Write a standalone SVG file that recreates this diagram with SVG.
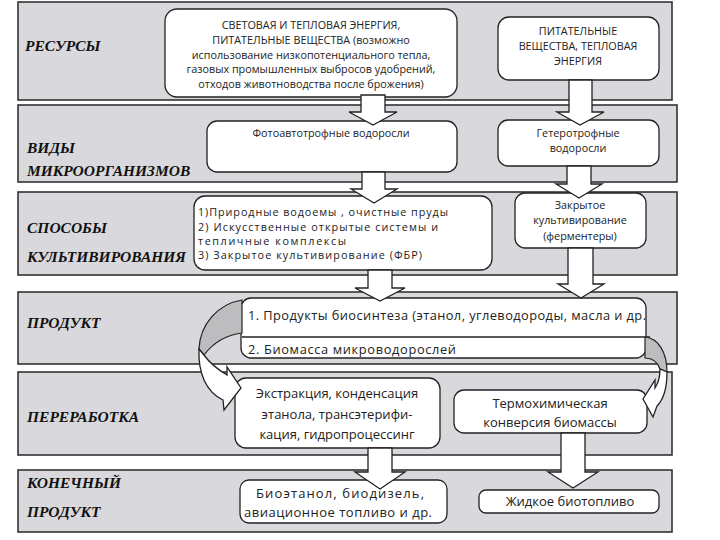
<svg xmlns="http://www.w3.org/2000/svg" width="720" height="540" viewBox="0 0 720 540">
<style>
.band{fill:#d9d9dd;stroke:#333;stroke-width:1.6}
.box{fill:#fff;stroke:#222;stroke-width:1.3}
.lbl{font-family:"Liberation Serif",serif;font-weight:bold;font-style:italic;font-size:15.5px;fill:#111}
.t{font-family:"Open Sans","Noto Sans",sans-serif;font-size:10.8px;fill:#222;text-anchor:middle}
.tl{font-family:"Open Sans","Noto Sans",sans-serif;font-size:10.8px;fill:#222;text-anchor:start}
.tm{font-family:"Open Sans","Noto Sans",sans-serif;font-size:13px;fill:#222;text-anchor:middle}
.tms{font-family:"Open Sans","Noto Sans",sans-serif;font-size:12.8px;fill:#222;text-anchor:start}
.arr{fill:#fff;stroke:#222;stroke-width:1.3;stroke-linejoin:miter}
.back{fill:#bdbdbf;stroke:#222;stroke-width:1.2}
</style>
<rect width="720" height="540" fill="#fff"/>
<g id="bands">
<rect class="band" x="18" y="2" width="654" height="98"/>
<rect class="band" x="18" y="105" width="659" height="77"/>
<rect class="band" x="18" y="192" width="659" height="83"/>
<rect class="band" x="18" y="292" width="659" height="72"/>
<rect class="band" x="18" y="372" width="654" height="83"/>
<rect class="band" x="18" y="470" width="654" height="62"/>
</g>
<g id="labels">
<text class="lbl" x="25" y="51">РЕСУРСЫ</text>
<text class="lbl" x="27" y="153">ВИДЫ</text>
<text class="lbl" x="27" y="176">МИКРООРГАНИЗМОВ</text>
<text class="lbl" x="27" y="233">СПОСОБЫ</text>
<text class="lbl" x="27" y="262">КУЛЬТИВИРОВАНИЯ</text>
<text class="lbl" x="27" y="328">ПРОДУКТ</text>
<text class="lbl" x="27" y="422">ПЕРЕРАБОТКА</text>
<text class="lbl" x="27" y="488">КОНЕЧНЫЙ</text>
<text class="lbl" x="27" y="517">ПРОДУКТ</text>
</g>
<g id="nodeA">
<rect class="box" x="165" y="9" width="292" height="88" rx="12"/>
<text class="t" x="311" y="29">СВЕТОВАЯ И ТЕПЛОВАЯ ЭНЕРГИЯ,</text>
<text class="t" x="311" y="44">ПИТАТЕЛЬНЫЕ ВЕЩЕСТВА (возможно</text>
<text class="t" x="311" y="59" font-size="11.2">использование низкопотенциального тепла,</text>
<text class="t" x="311" y="73" font-size="11.2">газовых промышленных выбросов удобрений,</text>
<text class="t" x="311" y="88" font-size="11.2">отходов животноводства после брожения)</text>
</g>
<g id="nodeB">
<rect class="box" x="498" y="17" width="161" height="63" rx="11"/>
<text class="t" x="578" y="35">ПИТАТЕЛЬНЫЕ</text>
<text class="t" x="578" y="50">ВЕЩЕСТВА,  ТЕПЛОВАЯ</text>
<text class="t" x="578" y="65">ЭНЕРГИЯ</text>
</g>
<g id="nodeC">
<rect class="box" x="207" y="121" width="250" height="51" rx="10"/>
<text class="t" x="331" y="137">Фотоавтотрофные водоросли</text>
</g>
<g id="nodeD">
<rect class="box" x="498" y="120" width="161" height="46" rx="10"/>
<text class="t" x="578" y="137">Гетеротрофные</text>
<text class="t" x="578" y="152">водоросли</text>
</g>
<g id="nodeE">
<rect class="box" x="194" y="196" width="298" height="74" rx="11"/>
<text class="tl" x="198" y="216" textLength="250" lengthAdjust="spacing">1)Природные водоемы , очистные пруды</text>
<text class="tl" x="198" y="231" textLength="240" lengthAdjust="spacing">2) Искусственные открытые  системы и</text>
<text class="tl" x="198" y="245" textLength="148" lengthAdjust="spacing">тепличные  комплексы</text>
<text class="tl" x="198" y="259" textLength="224" lengthAdjust="spacing">3) Закрытое культивирование  (ФБР)</text>
</g>
<g id="nodeF">
<rect class="box" x="515" y="193" width="131" height="55" rx="10"/>
<text class="t" x="580" y="209">Закрытое</text>
<text class="t" x="580" y="224">культивирование</text>
<text class="t" x="580" y="240">(ферментеры)</text>
</g>
<g id="nodeG">
<rect class="box" x="241" y="298" width="405" height="60" rx="10"/>
<line x1="242" y1="337" x2="650" y2="337" stroke="#222" stroke-width="1.3"/>
<text class="tms" x="248" y="320" textLength="398" lengthAdjust="spacing">1.  Продукты биосинтеза (этанол, углеводороды, масла и др.</text>
<text class="tms" x="248" y="354" textLength="208" lengthAdjust="spacing">2.  Биомасса микроводорослей</text>
</g>
<g id="nodeH">
<rect class="box" x="235" y="378" width="205" height="70" rx="11"/>
<text class="tm" x="337" y="398">Экстракция, конденсация</text>
<text class="tm" x="337" y="419">этанола, трансэтерифи-</text>
<text class="tm" x="337" y="439">кация, гидропроцессинг</text>
</g>
<g id="nodeI">
<rect class="box" x="454" y="390" width="193" height="43" rx="10"/>
<text class="tm" x="550" y="408">Термохимическая</text>
<text class="tm" x="550" y="427">конверсия биомассы</text>
</g>
<g id="nodeJ">
<rect class="box" x="240" y="480" width="207" height="43" rx="9"/>
<text class="tm" x="340" y="498" font-size="12.8" textLength="168" lengthAdjust="spacing">Биоэтанол, биодизель,</text>
<text class="tm" x="338" y="517" font-size="12.8" textLength="188" lengthAdjust="spacing">авиационное топливо и др.</text>
</g>
<g id="nodeK">
<rect class="box" x="479" y="490" width="180" height="23" rx="7"/>
<text class="tm" x="570" y="506" font-size="13.5">Жидкое биотопливо</text>
</g>
<g id="connectors">
<polygon class="arr" points="361,95 385,95 385,112 397,112 373,125 349,112 361,112"/>
<polygon class="arr" points="569,80 592,80 592,112 604,112 580,125 557,112 569,112"/>
<polygon class="arr" points="362,172 385,172 385,189 397,189 374,203 351,189 362,189"/>
<polygon class="arr" points="567,166 591,166 591,184 602,184 579,198 556,184 567,184"/>
<polygon class="arr" points="568,248 593,248 593,284 604,284 581,298 558,284 568,284"/>
<polygon class="arr" points="368,270 392,270 392,288 405,288 380,301 355,288 368,288"/>
<polygon class="arr" points="368,448 392,448 392,472 405,472 380,489 355,472 368,472"/>
<polygon class="arr" points="561,433 585,433 585,472 598,472 573,488 548,472 561,472"/>
<path class="back" d="M242,300 C218,304 200,324 199,349 L204,355 C213,343 226,335 242,333 Z"/>
<path class="arr" d="M199,349 C198,373 206,392 223,400 L224,410 L241,388 L227,367 L227,375 C217,369 209,362 204,355 Z"/>
<path class="back" d="M645,337 C658,338 667,352 667,372 L660,369 C658,363 653,358 645,358 Z"/>
<path class="arr" d="M667,372 C667,389 663,400 657,406 L653,417 L643,399 L655,380 L655,388 C659,382 660,376 660,369 Z"/>
</g>
</svg>
